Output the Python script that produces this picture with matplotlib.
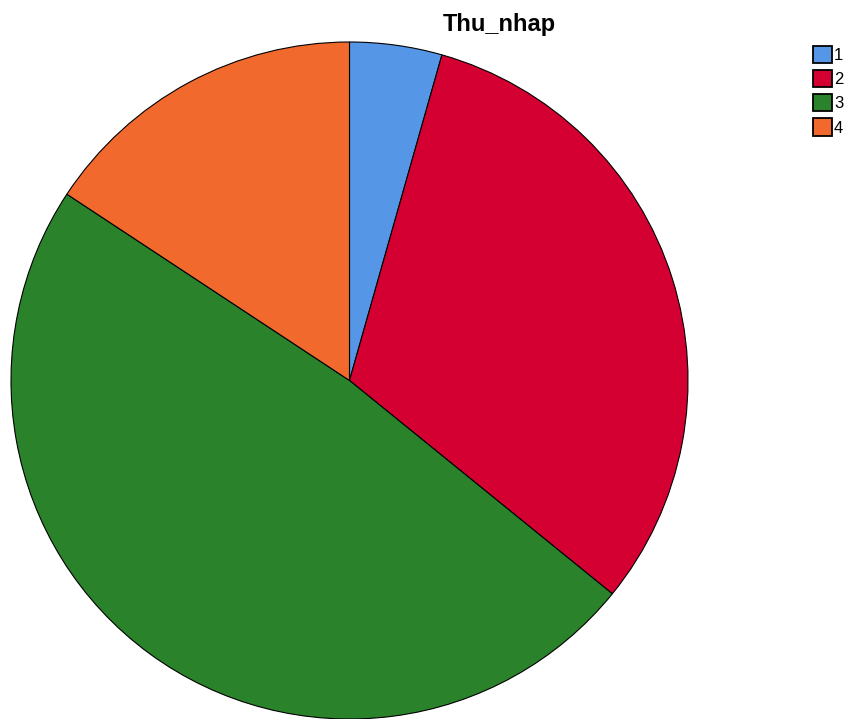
import matplotlib.pyplot as plt
from matplotlib.patches import Patch

plt.rcParams['font.family'] = ['Liberation Sans', 'DejaVu Sans']

labels = ['1', '2', '3', '4']
counts = [7, 50, 77, 25]
colors = ['#5596E6', '#D50032', '#2A832A', '#F2692D']

W, H = 852, 719
fig = plt.figure(figsize=(W / 100, H / 100), dpi=100)

# pie centre and radius in pixels
cx, cy, r = 349.5, 380.5, 338.5
ax = fig.add_axes([(cx - r) / W, (H - cy - r) / H, 2 * r / W, 2 * r / H])
ax.pie(counts, colors=colors, startangle=90, counterclock=False,
       wedgeprops=dict(edgecolor='black', linewidth=0.8))
ax.set_xlim(-1, 1)
ax.set_ylim(-1, 1)
ax.axis('off')

fig.text(499.5 / W, 1 - 31.5 / H, 'Thu_nhap', ha='center', va='baseline',
         fontsize=17, fontweight='bold')

handles = [Patch(facecolor=c, edgecolor='black', linewidth=1.3) for c in colors]
fig.legend(handles, labels, loc='upper left', bbox_to_anchor=(813 / W, 1 - 46 / H),
           frameon=False, fontsize=12, handlelength=1.14, handleheight=1.2,
           handletextpad=0.12, labelspacing=0.42, borderaxespad=0, borderpad=0)

fig.savefig('out.png', dpi=100)
